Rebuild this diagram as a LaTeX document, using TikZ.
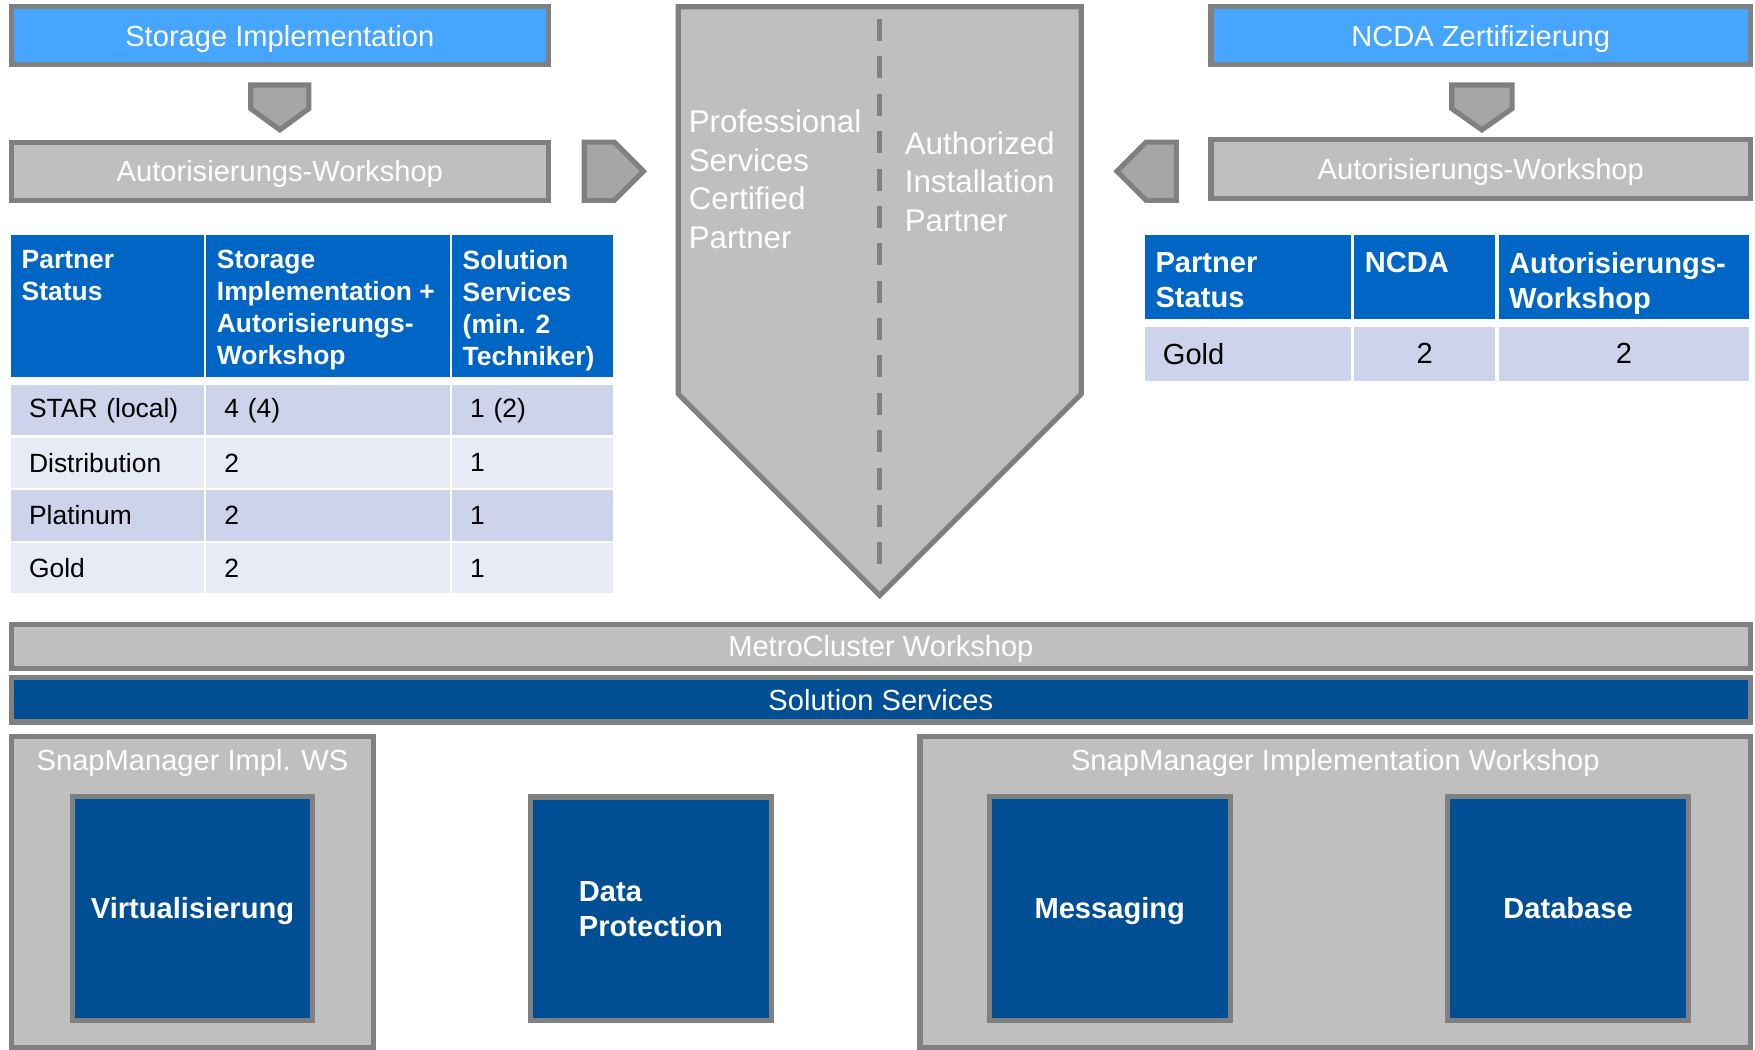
\documentclass[tikz,border=0pt]{standalone}
\usepackage{fontspec}
\setmainfont{Liberation Sans}
\usetikzlibrary{positioning}
\definecolor{rimgray}{RGB}{128,128,128}
\definecolor{boxgray}{RGB}{191,191,191}
\definecolor{arrowgray}{RGB}{166,166,166}
\definecolor{skyblue}{RGB}{69,165,255}
\definecolor{headblue}{RGB}{0,102,198}
\definecolor{navyblue}{RGB}{0,78,147}
\definecolor{rowdark}{RGB}{204,211,234}
\definecolor{rowlight}{RGB}{231,235,245}

\begin{document}
\begin{tikzpicture} [x=0.5pt, y=-0.5pt,
	oneline/.style={text height=9.4pt, text depth=0pt},
	box/.style={draw=rimgray, line width=2.3pt, inner sep=0pt, oneline, text=white, font=\fontsize{13pt}{15.6pt}\selectfont},
	ttl/.style={inner sep=0pt, oneline, text=white, font=\fontsize{13pt}{15.6pt}\selectfont},
	ptxt/.style={anchor=west, align=left, inner sep=0pt, text=white, font=\fontsize{14pt}{17.2pt}\selectfont},
	chev/.style={draw=rimgray, line width=2.3pt},
	tile/.style={draw=rimgray, line width=2.3pt, fill=navyblue, inner sep=0pt, minimum width=107.5pt, minimum height=100pt, text=white, font=\bfseries\fontsize{13pt}{15.6pt}\selectfont},
	cell/.style={anchor=north west, outer sep=0pt, inner xsep=8pt, inner ysep=0pt, align=left},
	lhd/.style={cell, fill=headblue, minimum height=63.5pt},
	lht/.style={anchor=north west, inner xsep=4.5pt, inner ysep=6.5pt, align=left, text=white, font=\bfseries\fontsize{11.8pt}{14.35pt}\selectfont},
	lrow/.style={cell, minimum height=22.5pt, font=\fontsize{11.8pt}{14.35pt}\selectfont},
	rhd/.style={cell, fill=headblue, minimum height=37.5pt},
	rht/.style={anchor=north west, inner xsep=4.5pt, inner ysep=7.5pt, align=left, text=white, font=\bfseries\fontsize{13pt}{15.5pt}\selectfont},
	rrow/.style={cell, fill=rowdark, minimum height=24pt, font=\fontsize{13pt}{15.6pt}\selectfont},
	ca/.style={text width=70pt}, cb/.style={text width=92.6pt}, cc/.style={text width=56pt},
	ra/.style={text width=76pt}, rb/.style={text width=47pt}, rc/.style={text width=96pt}]
	\useasboundingbox (0,0) rectangle (1568,938);

	\node [box, fill=skyblue, minimum width=240pt, minimum height=26pt] (si) at (250,32) {Storage Implementation};
	\node [box, fill=boxgray, minimum width=240pt, minimum height=26pt] (aw1) at (250,153) {Autorisierungs-Workshop};
	\node [box, fill=skyblue, minimum width=241pt, minimum height=26pt] (ncda) at (1323,32) {NCDA Zertifizierung};
	\node [box, fill=boxgray, minimum width=241pt, minimum height=26pt] (aw2) at (1323,151) {Autorisierungs-Workshop};

	\draw [chev, fill=arrowgray] (224,76) -- (276,76) -- (276,97) -- (250,116) -- (224,97) -- cycle;
	\draw [chev, fill=arrowgray] (522,127) -- (549,127) -- (575,153) -- (549,179) -- (522,179) -- cycle;
	\draw [chev, fill=arrowgray] (1297,76) -- (1351,76) -- (1351,97) -- (1324,116) -- (1297,97) -- cycle;
	\draw [chev, fill=arrowgray] (1051,127) -- (1024,127) -- (998,153) -- (1024,179) -- (1051,179) -- cycle;

	\draw [chev, fill=boxgray] (606,6) -- (966,6) -- (966,352) -- (786,532) -- (606,352) -- cycle;
	\draw [rimgray, line width=2.4pt, dash pattern=on 9.8pt off 6.9pt] (786,17) -- (786,505);
	\node [ptxt] (pscp) at (615,160) {Professional\\Services\\Certified\\Partner};
	\node [ptxt] (aip) at (808,162) {Authorized\\Installation\\Partner};

	\node [lhd, ca] (lh1) at (10,210) {};
	\node [lhd, cb, right=1.2pt of lh1] (lh2) {};
	\node [lhd, cc, right=1.2pt of lh2] (lh3) {};
	\node [lht] (lh1t) at (lh1.north west) {Partner\\Status};
	\node [lht] (lh2t) at (lh2.north west) {Storage\\Implementation +\\Autorisierungs-\\Workshop};
	\node [lht] (lh3t) at (lh3.north west) {Solution\\Services\\(min. 2\\Techniker)};
	\node [lrow, ca, fill=rowdark, below=3.5pt of lh1] (l1a) {STAR (local)};
	\node [lrow, cb, fill=rowdark, below=3.5pt of lh2] (l1b) {4 (4)};
	\node [lrow, cc, fill=rowdark, below=3.5pt of lh3] (l1c) {1 (2)};
	\node [lrow, ca, fill=rowlight, below=1pt of l1a] (l2a) {Distribution};
	\node [lrow, cb, fill=rowlight, below=1pt of l1b] (l2b) {2};
	\node [lrow, cc, fill=rowlight, below=1pt of l1c] (l2c) {1};
	\node [lrow, ca, fill=rowdark, below=1pt of l2a] (l3a) {Platinum};
	\node [lrow, cb, fill=rowdark, below=1pt of l2b] (l3b) {2};
	\node [lrow, cc, fill=rowdark, below=1pt of l2c] (l3c) {1};
	\node [lrow, ca, fill=rowlight, below=1pt of l3a] (l4a) {Gold};
	\node [lrow, cb, fill=rowlight, below=1pt of l3b] (l4b) {2};
	\node [lrow, cc, fill=rowlight, below=1pt of l3c] (l4c) {1};

	\node [rhd, ra] (rh1) at (1023,210) {};
	\node [rhd, rb, right=1.5pt of rh1] (rh2) {};
	\node [rhd, rc, right=1.5pt of rh2] (rh3) {};
	\node [rht] (rh1t) at (rh1.north west) {Partner\\Status};
	\node [rht] (rh2t) at (rh2.north west) {NCDA};
	\node [rht] (rh3t) at (rh3.north west) {Autorisierungs-\\Workshop};
	\node [rrow, ra, below=3.5pt of rh1] (r1a) {Gold};
	\node [rrow, rb, align=center, below=3.5pt of rh2] (r1b) {2};
	\node [rrow, rc, align=center, below=3.5pt of rh3] (r1c) {2};

	\node [box, fill=boxgray, minimum width=777pt, minimum height=19.5pt] (mc) at (787,577.5) {MetroCluster Workshop};
	\node [box, fill=navyblue, minimum width=777pt, minimum height=20pt] (ss) at (787,625) {Solution Services};

	\node [box, fill=boxgray, minimum width=162pt, minimum height=139pt] (smw) at (172,797) {};
	\node [ttl] (smwt) at (172,679) {SnapManager Impl. WS};
	\node [box, fill=boxgray, minimum width=371pt, minimum height=139pt] (smiw) at (1193,797) {};
	\node [ttl] (smiwt) at (1193,679) {SnapManager Implementation Workshop};
	\node [tile, oneline] (virt) at (172,811.5) {Virtualisierung};
	\node [tile, align=left] (dprot) at (581.5,812) {Data\\Protection};
	\node [tile, oneline] (msg) at (991.5,811.5) {Messaging};
	\node [tile, oneline] (dbase) at (1401,811.5) {Database};
\end{tikzpicture}
\end{document}
